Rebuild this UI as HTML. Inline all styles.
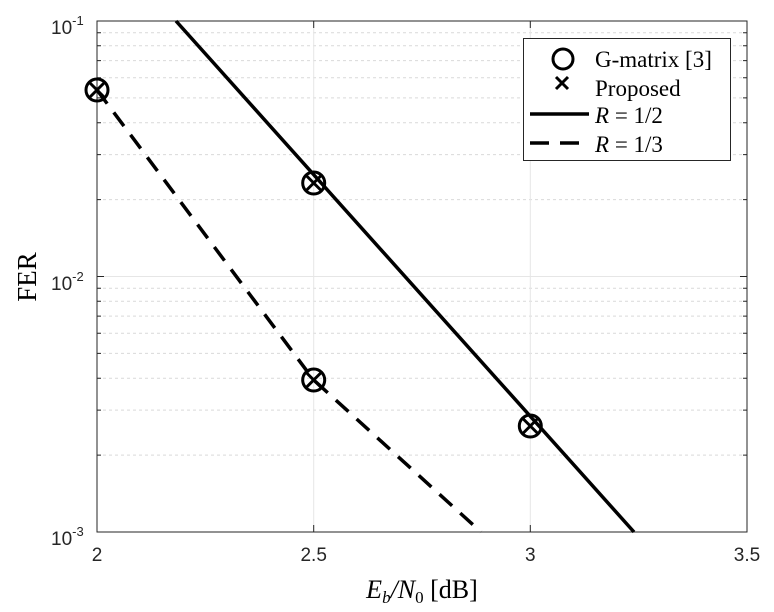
<!DOCTYPE html>
<html><head><style>body{margin:0;background:#fff}svg{display:block}</style></head><body>
<svg width="774" height="612" xmlns="http://www.w3.org/2000/svg">
<rect width="774" height="612" fill="#fff"/>
<g stroke="#d9d9d9" stroke-width="1" stroke-dasharray="3,3">
<line x1="97" x2="747" y1="455.1" y2="455.1"/><line x1="97" x2="747" y1="410.1" y2="410.1"/><line x1="97" x2="747" y1="378.2" y2="378.2"/><line x1="97" x2="747" y1="353.4" y2="353.4"/><line x1="97" x2="747" y1="333.2" y2="333.2"/><line x1="97" x2="747" y1="316.1" y2="316.1"/><line x1="97" x2="747" y1="301.3" y2="301.3"/><line x1="97" x2="747" y1="288.2" y2="288.2"/>
<line x1="97" x2="747" y1="199.6" y2="199.6"/><line x1="97" x2="747" y1="154.6" y2="154.6"/><line x1="97" x2="747" y1="122.7" y2="122.7"/><line x1="97" x2="747" y1="97.9" y2="97.9"/><line x1="97" x2="747" y1="77.7" y2="77.7"/><line x1="97" x2="747" y1="60.6" y2="60.6"/><line x1="97" x2="747" y1="45.8" y2="45.8"/><line x1="97" x2="747" y1="32.7" y2="32.7"/>
</g>
<g stroke="#e6e6e6" stroke-width="1">
<line x1="97" x2="747" y1="276.5" y2="276.5"/>
<line x1="313.7" x2="313.7" y1="21" y2="532"/><line x1="530.3" x2="530.3" y1="21" y2="532"/>
</g>
<g stroke="#262626" stroke-width="1" fill="none">
<rect x="97" y="21" width="650" height="511"/>
<line x1="97" x2="104" y1="276.5" y2="276.5"/><line x1="740" x2="747" y1="276.5" y2="276.5"/>
<line x1="313.7" x2="313.7" y1="532" y2="525"/><line x1="530.3" x2="530.3" y1="532" y2="525"/>
<line x1="313.7" x2="313.7" y1="21" y2="28"/><line x1="530.3" x2="530.3" y1="21" y2="28"/>
<path d="M97 455.1h4M97 410.1h4M97 378.2h4M97 353.4h4M97 333.2h4M97 316.1h4M97 301.3h4M97 288.2h4M97 199.6h4M97 154.6h4M97 122.7h4M97 97.9h4M97 77.7h4M97 60.6h4M97 45.8h4M97 32.7h4"/>
<path d="M747 455.1h-4M747 410.1h-4M747 378.2h-4M747 353.4h-4M747 333.2h-4M747 316.1h-4M747 301.3h-4M747 288.2h-4M747 199.6h-4M747 154.6h-4M747 122.7h-4M747 97.9h-4M747 77.7h-4M747 60.6h-4M747 45.8h-4M747 32.7h-4"/>
</g>
<g stroke="#000" stroke-width="3.5" fill="none">
<line x1="176" y1="21" x2="634" y2="532"/>
<polyline points="97,90 313.7,380 481,532" stroke-dasharray="17,11"/>
</g>
<g stroke="#000" stroke-width="3" fill="none">
<circle cx="97" cy="90" r="11"/><path d="M90 83l14 14M104 83l-14 14"/>
<circle cx="313.7" cy="183" r="11"/><path d="M306.7 176l14 14M320.7 176l-14 14"/>
<circle cx="313.7" cy="380" r="11"/><path d="M306.7 373l14 14M320.7 373l-14 14"/>
<circle cx="530.3" cy="426" r="11"/><path d="M523.3 419l14 14M537.3 419l-14 14"/>
</g>
<g font-family="Liberation Sans, sans-serif" font-size="19" fill="#262626">
<text x="51" y="34">10<tspan font-size="13" dy="-9">-1</tspan></text>
<text x="51" y="290">10<tspan font-size="13" dy="-9">-2</tspan></text>
<text x="51" y="545">10<tspan font-size="13" dy="-9">-3</tspan></text>
<text x="97" y="561" text-anchor="middle">2</text>
<text x="313.7" y="561" text-anchor="middle">2.5</text>
<text x="530.3" y="561" text-anchor="middle">3</text>
<text x="747" y="561" text-anchor="middle">3.5</text>
</g>
<g font-family="Liberation Serif, serif" fill="#000">
<text transform="translate(36,277) rotate(-90)" text-anchor="middle" font-size="27">FER</text>
<text x="422" y="598" text-anchor="middle" font-size="26"><tspan font-style="italic">E</tspan><tspan font-style="italic" font-size="17" dy="5">b</tspan><tspan dy="-5" font-style="italic">/N</tspan><tspan font-size="17" dy="5">0</tspan><tspan dy="-5"> [dB]</tspan></text>
</g>
<rect x="523.5" y="38.5" width="207" height="122" fill="#fff" stroke="#262626" stroke-width="1"/>
<g stroke="#000" stroke-width="3" fill="none">
<circle cx="563" cy="59" r="10"/>
<path d="M556 77l12 12M568 77l-12 12"/>
<line x1="530" x2="589" y1="114" y2="114" stroke-width="3.5"/>
<path d="M530 143h19M560 143h19" stroke-width="3.5"/>
</g>
<g font-family="Liberation Serif, serif" font-size="23" fill="#000">
<text x="595" y="67">G-matrix [3]</text>
<text x="595" y="96">Proposed</text>
<text x="595" y="123"><tspan font-style="italic">R</tspan> = 1/2</text>
<text x="595" y="152"><tspan font-style="italic">R</tspan> = 1/3</text>
</g>
</svg>
</body></html>
